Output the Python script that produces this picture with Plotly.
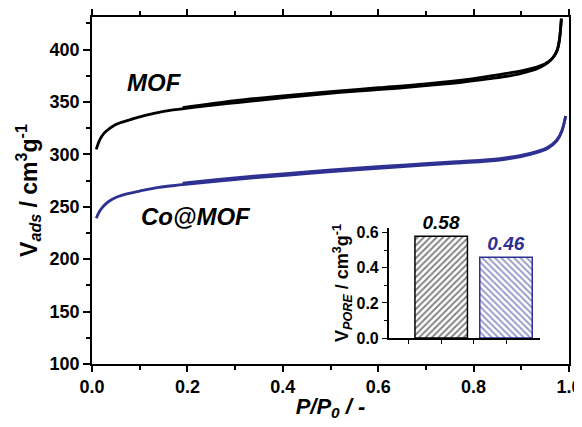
import plotly.graph_objects as go

# ---- data ----
p_ads_mof = [0.009, 0.016, 0.025, 0.037, 0.05, 0.065, 0.08, 0.1, 0.13, 0.17, 0.205, 0.25, 0.31, 0.36, 0.414,
             0.47, 0.52, 0.58, 0.638, 0.70, 0.778, 0.83, 0.883, 0.91, 0.932, 0.95, 0.963, 0.972, 0.977, 0.980,
             0.982, 0.984]
v_ads_mof = [304.8, 313.6, 320, 324.8, 328.5, 331, 333, 335.8, 339, 342.3, 344.3, 346.8, 349.6, 352, 354.5,
             357, 359, 361, 363, 365.5, 369, 372, 375.5, 378.5, 381.5, 385.5, 390.5, 396, 402, 409, 418, 429.5]
p_des_mof = [0.984, 0.98, 0.975, 0.965, 0.95, 0.93, 0.9, 0.86, 0.8, 0.7, 0.6, 0.5, 0.4, 0.3, 0.19]
v_des_mof = [429.5, 410, 399, 391.5, 386.5, 383, 379.5, 376.5, 372.3, 367.3, 363.5, 359.8, 355.8, 351.2, 344.5]

p_ads_co = [0.009, 0.015, 0.023, 0.035, 0.051, 0.075, 0.1, 0.14, 0.19, 0.26, 0.345, 0.45, 0.554, 0.66, 0.764,
            0.855, 0.897, 0.932, 0.955, 0.974, 0.985, 0.993]
v_ads_co = [239, 245, 250, 255, 259, 262.5, 265, 268.5, 271, 274.3, 277.8, 281.6, 285.2, 288.6, 291.6,
            294.6, 297.5, 301.5, 305.5, 312.5, 322, 336.5]
p_des_co = [0.993, 0.985, 0.974, 0.955, 0.932, 0.897, 0.855, 0.764, 0.66, 0.554, 0.45, 0.345, 0.26, 0.19]
v_des_co = [336.5, 322.5, 313.5, 306.5, 302.6, 298.8, 296, 293, 290, 286.8, 283.2, 279.4, 275.8, 272.6]

inset_cats = ["MOF", "Co@MOF"]
inset_vals = [0.58, 0.46]
inset_labels = ["0.58", "0.46"]

BLUE = "#2E3192"
FONT = "Liberation Sans"

fig = go.Figure()
for px, vy, col in [(p_ads_mof, v_ads_mof, "black"), (p_des_mof, v_des_mof, "black"),
                    (p_ads_co, v_ads_co, BLUE), (p_des_co, v_des_co, BLUE)]:
    fig.add_trace(go.Scatter(x=px, y=vy, mode="lines", line=dict(color=col, width=2.8, shape="spline"),
                             showlegend=False, hoverinfo="skip"))

# inset bars
fig.add_trace(go.Bar(
    x=[0, 1], y=inset_vals, width=0.81, xaxis="x2", yaxis="y2", showlegend=False,
    marker=dict(color="white", line=dict(color=["black", BLUE], width=1.5),
                pattern=dict(shape=["/", "\\"], fgcolor=["black", BLUE], bgcolor="white",
                             size=4.5, solidity=0.4, fillmode="overlay")),
    text=inset_labels, textposition="outside", cliponaxis=False, constraintext="none",
    textfont=dict(family=FONT, size=19, color=["black", BLUE], weight="bold", style="italic"),
))

axis_common = dict(showline=True, linecolor="black", linewidth=1.5, ticks="outside", tickcolor="black",
                   tickwidth=1.5, showgrid=False, zeroline=False, automargin=False)

# page body has an 8px margin: figure is sized/offset to compensate
fig.update_layout(
    width=574, height=419, margin=dict(l=84, r=13, t=9, b=63),
    plot_bgcolor="white", paper_bgcolor="white",
    font=dict(family=FONT, color="black"),
    xaxis=dict(range=[0, 1.0], dtick=0.2, tickformat=".1f", ticklen=6, mirror="ticks",
               minor=dict(dtick=0.1, ticks="outside", ticklen=4, tickcolor="black", tickwidth=1.5),
               tickfont=dict(size=18, weight="bold"),
               title=dict(text="<i>P/P<sub>0</sub> / -</i>", font=dict(size=22, weight="bold"), standoff=2),
               **axis_common),
    yaxis=dict(range=[100, 431], dtick=50, ticklen=7, mirror=True,
               minor=dict(dtick=25, ticks="outside", ticklen=4, tickcolor="black", tickwidth=1.5),
               tickfont=dict(size=18, weight="bold"),
               title=dict(text="V<sub><i>ads</i></sub> / cm<sup>3</sup>g<sup>-1</sup>",
                          font=dict(size=23, weight="bold"), standoff=6),
               **axis_common),
    xaxis2=dict(domain=[0.622, 0.9386], anchor="y2", range=[-0.81, 1.52], tickvals=[0, 1],
                showticklabels=False, automargin=False,
                showline=True, linecolor="black", linewidth=1.5, ticks="outside", ticklen=4, tickwidth=1.2,
                tickcolor="black",
                minor=dict(tickvals=[-0.5, 0.5], ticks="outside", ticklen=4, tickwidth=1.2, tickcolor="black"),
                showgrid=False, zeroline=False),
    yaxis2=dict(domain=[0.0748, 0.392], anchor="x2", range=[0, 0.627], dtick=0.2, tickformat=".1f",
                automargin=False,
                showline=True, linecolor="black", linewidth=1.5, ticks="outside", ticklen=5, tickwidth=1.2,
                tickcolor="black",
                minor=dict(dtick=0.1, ticks="outside", ticklen=3, tickwidth=1.2, tickcolor="black"),
                showgrid=False, zeroline=False, tickfont=dict(size=16, weight="bold"),
                title=dict(text="V<sub><i>PORE</i></sub> / cm<sup>3</sup>g<sup>-1</sup>",
                           font=dict(size=18, weight="bold"), standoff=3)),
    annotations=[
        dict(x=0.131, y=369, xref="x", yref="y", text="<b><i>MOF</i></b>", showarrow=False,
             font=dict(size=24, family=FONT, color="black")),
        dict(x=0.217, y=240.5, xref="x", yref="y", text="<b><i>Co@MOF</i></b>", showarrow=False,
             font=dict(size=24, family=FONT, color="black")),
    ],
)

fig.write_html("out.html")
